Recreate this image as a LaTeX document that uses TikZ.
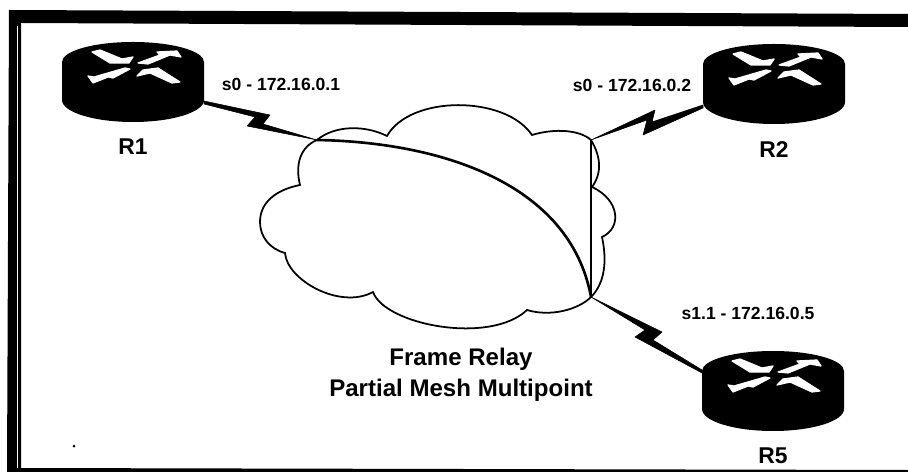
\documentclass[tikz,border=0pt]{standalone}
\usepackage{fontspec}
\setmainfont{Liberation Sans}
\tikzset{
  rlabel/.style={font=\bfseries\fontsize{13}{15}\selectfont},
  iflabel/.style={font=\bfseries\fontsize{10}{12}\selectfont},
  caption/.style={font=\bfseries\fontsize{13.7}{17.6}\selectfont,align=center},
  link/.style={line width=1pt},
  bolt/.style={fill=black,draw=black,line width=0.3pt,line join=round},
  arrowhead/.style={fill=white,draw=white,line width=0.7pt,line join=round},
  router/.pic={
    % Body, then the four arrows on top
    \fill[black] (-71,-20) arc[start angle=180,end angle=360,x radius=71,y radius=20]
      -- (71,18) arc[start angle=0,end angle=180,x radius=71,y radius=22] -- cycle;
    \draw[arrowhead] (-41,-30) -- (-33,-32) -- (-11,-23) -- (0,-25) -- (-4,-19) -- (-23,-19) -- cycle;
    \draw[arrowhead] (5,-19) -- (27,-27) -- (24,-30) -- (44,-31) -- (48,-25) -- (37,-27) -- (15,-18) -- cycle;
    \draw[arrowhead] (-45,-6) -- (-39,-5) -- (-8,-14) -- (-3,-13) -- (-20,-4) -- (-25,-5) -- (-40,1) -- cycle;
    \draw[arrowhead] (4,-6) -- (10,-12) -- (25,-14) -- (47,0) -- (39,1) -- (17,-9) -- cycle;
  }
}
\begin{document}
\begin{tikzpicture}[x=0.02cm,y=-0.02cm]
  \useasboundingbox (0,0) rectangle (908,472);
  % Frame
  \fill[black] (9,10) -- (908,14) -- (908,27) -- (21,23) -- (21,468) -- (908,470) -- (908,472) -- (7,472) -- cycle;
  \draw[white,line width=0.4pt] (17,26) -- (17,468);
  % Routers
  \pic (r1) at (133,82) {router};
  \pic (r2) at (774,84) {router};
  \pic (r5) at (773,391) {router};
  \node[rlabel] (r1label) at (133,147) {R1};
  \node[rlabel] (r2label) at (774,150) {R2};
  \node[rlabel] (r5label) at (773,456) {R5};
  % Interface addresses
  \node[iflabel] (s1) at (281,84) {s0 - 172.16.0.1};
  \node[iflabel] (s2) at (632,85) {s0 - 172.16.0.2};
  \node[iflabel] (s5) at (748,313) {s1.1 - 172.16.0.5};
  % Cloud
  \coordinate (c1) at (317,140);
  \coordinate (c2) at (591,140);
  \coordinate (c5) at (591,297);
  \draw[link] (c1) .. controls (300,147) and (295,165) .. (300,185)
    .. controls (275,190) and (260,203) .. (260,222)
    .. controls (260,237) and (270,249) .. (285,253)
    .. controls (287,280) and (340,310) .. (373,292)
    .. controls (385,325) and (490,345) .. (527,310)
    .. controls (550,317) and (578,310) .. (591,297)
    .. controls (603,285) and (608,265) .. (602,237)
    .. controls (622,228) and (620,200) .. (592,187)
    .. controls (603,172) and (600,155) .. (591,140)
    .. controls (580,130) and (555,128) .. (532,135)
    .. controls (505,95) and (410,95) .. (387,136)
    .. controls (365,125) and (335,125) .. (c1);
  % Frame Relay circuits
  \draw[line width=1.5pt] (c1) .. controls (440,142) and (570,183) .. (c5);
  \draw[line width=1.2pt] (c2) -- (c5);
  % Serial links
  \draw[bolt] (204,101) -- (270,115) -- (263,124) -- (c1) -- (247,126) -- (255,117) -- (204,104) -- cycle;
  \draw[bolt] (703,105) -- (652,122) -- (655,110) -- (c2) -- (647,120) -- (643,135) -- (703,108) -- cycle;
  \draw[bolt] (c5) -- (662,332) -- (653,340) -- (702,370) -- (702,373) -- (635,337) -- (645,330) -- cycle;
  % Caption
  \node[caption] (title) at (461,375) {Frame Relay\\Partial Mesh Multipoint};
  \fill[black] (74,446) circle[radius=1.5];
\end{tikzpicture}
\end{document}
